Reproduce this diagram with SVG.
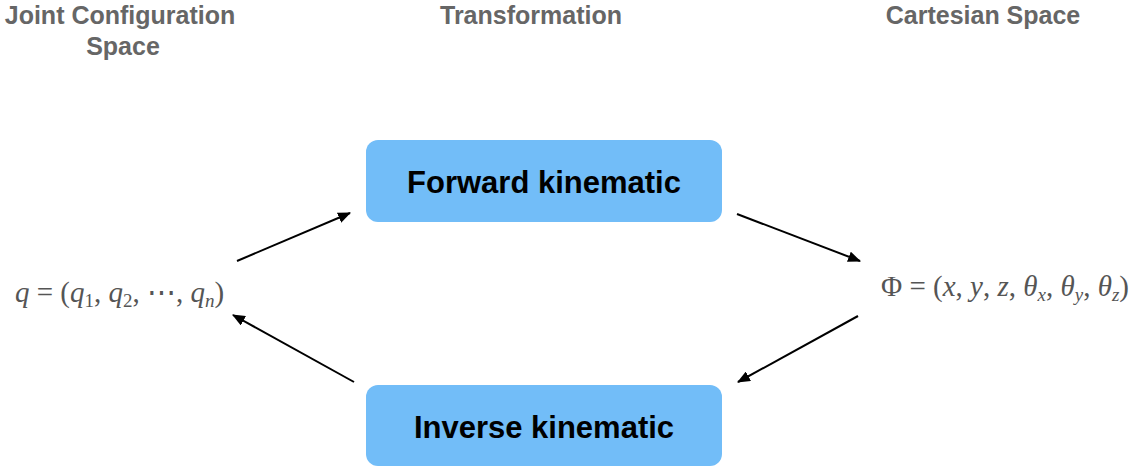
<svg xmlns="http://www.w3.org/2000/svg" width="1137" height="469" viewBox="0 0 1137 469">
  <style>
    .hdr { font-family: "Liberation Sans", Arial, sans-serif; font-weight: bold; font-size: 25px; fill: #666666; text-anchor: middle; }
    .box { fill: #72bdf8; }
    .lbl { font-family: "Liberation Sans", Arial, sans-serif; font-weight: bold; font-size: 31px; fill: #000000; text-anchor: middle; }
    .math { font-family: "Liberation Serif", "Times New Roman", serif; font-size: 29px; fill: #555555; }
    .it { font-style: italic; }
    .sub { font-size: 19px; }
    .conn { stroke: #000000; stroke-width: 2; fill: none; marker-end: url(#arrow); }
  </style>
  <defs>
    <marker id="arrow" viewBox="0 0 12 10" refX="11" refY="5" markerWidth="13" markerHeight="11" markerUnits="userSpaceOnUse" orient="auto">
      <path d="M0,0 L12,5 L0,10 z" fill="#000000"/>
    </marker>
  </defs>
  <rect width="1137" height="469" fill="#ffffff"/>

  <!-- column headers -->
  <g id="headers">
    <text class="hdr" x="120" y="24">Joint Configuration</text>
    <text class="hdr" x="123" y="55">Space</text>
    <text class="hdr" x="531" y="24">Transformation</text>
    <text class="hdr" x="983" y="24">Cartesian Space</text>
  </g>

  <!-- joint space vector -->
  <g id="joint-space">
    <text class="math" x="15" y="302"><tspan class="it">q</tspan> = (<tspan class="it">q</tspan><tspan class="sub" dy="5">1</tspan><tspan dy="-5">, </tspan><tspan class="it">q</tspan><tspan class="sub" dy="5">2</tspan><tspan dy="-5">, ⋯, </tspan><tspan class="it">q</tspan><tspan class="sub it" dy="5">n</tspan><tspan dy="-5">)</tspan></text>
  </g>

  <!-- cartesian pose vector -->
  <g id="cartesian-space">
    <text class="math" x="881" y="296">Φ = (<tspan class="it">x</tspan>, <tspan class="it">y</tspan>, <tspan class="it">z</tspan>, <tspan class="it">θ</tspan><tspan class="sub it" dy="5">x</tspan><tspan dy="-5">, </tspan><tspan class="it">θ</tspan><tspan class="sub it" dy="5">y</tspan><tspan dy="-5">, </tspan><tspan class="it">θ</tspan><tspan class="sub it" dy="5">z</tspan><tspan dy="-5">)</tspan></text>
  </g>

  <g id="forward-kinematic">
    <rect class="box" x="366" y="140" width="356" height="82" rx="12" ry="12"/>
    <text class="lbl" x="544" y="193">Forward kinematic</text>
  </g>

  <g id="inverse-kinematic">
    <rect class="box" x="366" y="385" width="356" height="81" rx="12" ry="12"/>
    <text class="lbl" x="544" y="438">Inverse kinematic</text>
  </g>

  <g id="connectors">
    <line class="conn" x1="237" y1="261" x2="350" y2="213"/>
    <line class="conn" x1="737" y1="214" x2="860" y2="261"/>
    <line class="conn" x1="858" y1="316" x2="738" y2="382"/>
    <line class="conn" x1="354" y1="382" x2="233" y2="315"/>
  </g>
</svg>
